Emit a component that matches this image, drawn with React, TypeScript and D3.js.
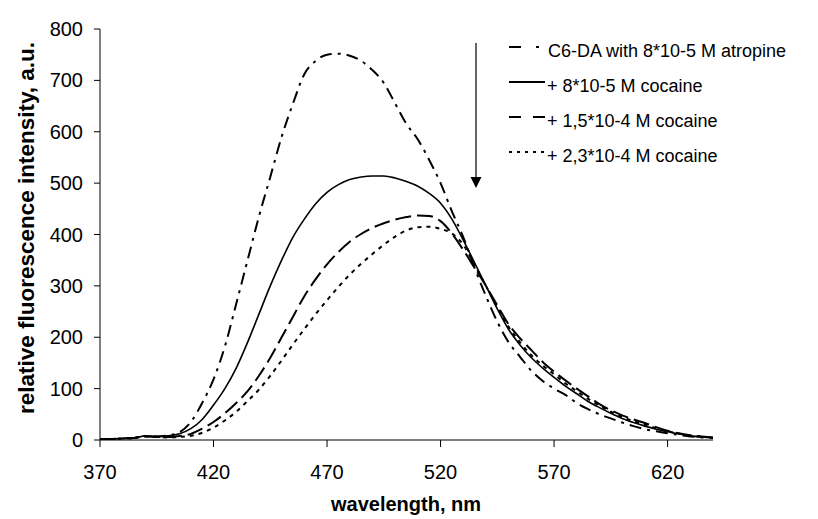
import React from "react";
import * as d3 from "d3";

const wavelengths = [370,375,380,385,390,395,400,405,410,415,420,425,430,435,440,445,450,455,460,465,470,475,480,485,490,495,500,505,510,515,520,525,530,535,540,545,550,555,560,565,570,575,580,585,590,595,600,605,610,615,620,625,630,635,640];

const atropine = [2,2,3,4,8,7,9,15,35,72,118,182,265,350,435,512,590,655,712,738,750,752,748,738,720,695,655,615,585,545,500,445,395,335,280,230,190,162,135,115,100,88,72,60,50,42,34,27,21,17,13,10,7,5,4];
const cocaine1 = [2,2,3,4,8,7,8,12,22,40,68,100,140,190,245,300,350,395,430,460,482,497,507,512,514,514,510,503,494,480,461,430,389,345,300,255,215,185,160,140,122,105,90,75,63,52,42,34,27,21,16,12,8,6,5];
const cocaine2 = [2,2,3,4,7,6,6,8,12,22,35,52,72,95,125,160,200,240,280,313,342,366,386,401,413,422,429,434,437,436,426,402,370,335,300,262,225,198,175,152,133,116,100,85,70,58,48,40,33,25,18,13,9,7,5];
const cocaine3 = [2,2,3,4,7,6,5,6,8,14,24,38,55,76,98,125,155,186,216,245,272,298,322,343,362,380,396,408,414,415,411,402,380,340,300,258,220,190,165,145,128,110,95,80,67,55,45,37,30,23,17,12,9,6,5];

const legendLabels = [
  "C6-DA with 8*10-5 M atropine",
  "+ 8*10-5 M cocaine",
  "+ 1,5*10-4 M cocaine",
  "+ 2,3*10-4 M cocaine",
];
const xTicks = [370, 420, 470, 520, 570, 620];
const yTicks = [0, 100, 200, 300, 400, 500, 600, 700, 800];

const seriesList = [atropine, cocaine1, cocaine2, cocaine3];
const curveDash = ["12,6,3,6", null, "16,6", "4,5"];
const curveWidth = [2, 1.6, 2, 2];
const legendDash = ["12,15,3,15", null, "12,12,12", "3,5"];

export default function App() {
  const W = 818, H = 519;
  const x = d3.scaleLinear().domain([370, 640]).range([100, 713]);
  const y = d3.scaleLinear().domain([0, 800]).range([440, 29]);
  const line = d3.line<number>()
    .x((_, i) => x(wavelengths[i]))
    .y((v) => y(v))
    .curve(d3.curveMonotoneX);
  const font = "'Liberation Sans', Arial, sans-serif";
  const arrowX = 476;
  return (
    <svg width={W} height={H} style={{ position: "absolute", left: 0, top: 0, background: "#fff" }} fontFamily={font}>
      <rect x={0} y={0} width={W} height={H} fill="#fff" />
      {/* axes */}
      <line x1={x(370)} x2={x(640)} y1={y(0)} y2={y(0)} stroke="#000" strokeWidth={1} />
      <line x1={x(370)} x2={x(370)} y1={y(0)} y2={y(800)} stroke="#000" strokeWidth={1} />
      {xTicks.map((t) => (
        <g key={"x" + t}>
          <line x1={x(t)} x2={x(t)} y1={y(0)} y2={y(0) + 7} stroke="#000" />
          <text x={x(t)} y={y(0) + 39} textAnchor="middle" fontSize={20}>{t}</text>
        </g>
      ))}
      {yTicks.map((t) => (
        <g key={"y" + t}>
          <line x1={x(370) - 6} x2={x(370)} y1={y(t)} y2={y(t)} stroke="#000" />
          <text x={83} y={y(t)} dy="0.35em" textAnchor="end" fontSize={20}>{t}</text>
        </g>
      ))}
      <text x={406} y={511} textAnchor="middle" fontSize={20} fontWeight="bold">wavelength, nm</text>
      <text transform={`translate(26, 228) rotate(-90)`} textAnchor="middle" dy="0.35em" fontSize={22.5} fontWeight="bold">
        relative fluorescence intensity, a.u.
      </text>
      {/* curves */}
      {seriesList.map((s, i) => (
        <path key={"s" + i} d={line(s) || ""} fill="none" stroke="#000" strokeWidth={curveWidth[i]}
          strokeDasharray={curveDash[i] || undefined} />
      ))}
      {/* arrow */}
      <line x1={arrowX} x2={arrowX} y1={43} y2={178} stroke="#000" strokeWidth={1.2} />
      <path d={`M${arrowX - 5.5},177 L${arrowX + 5.5},177 L${arrowX},188 Z`} fill="#000" />
      {/* legend */}
      {legendLabels.map((lab, i) => {
        const ly = 47 + i * 35;
        return (
          <g key={"l" + i}>
            <line x1={509} x2={i === 0 ? 540 : 545} y1={ly} y2={ly} stroke="#000" strokeWidth={2}
              strokeDasharray={legendDash[i] || undefined} />
            <text x={i === 0 ? 548 : 547} y={ly + 4} dy="0.35em" fontSize={18}>{lab}</text>
          </g>
        );
      })}
    </svg>
  );
}
